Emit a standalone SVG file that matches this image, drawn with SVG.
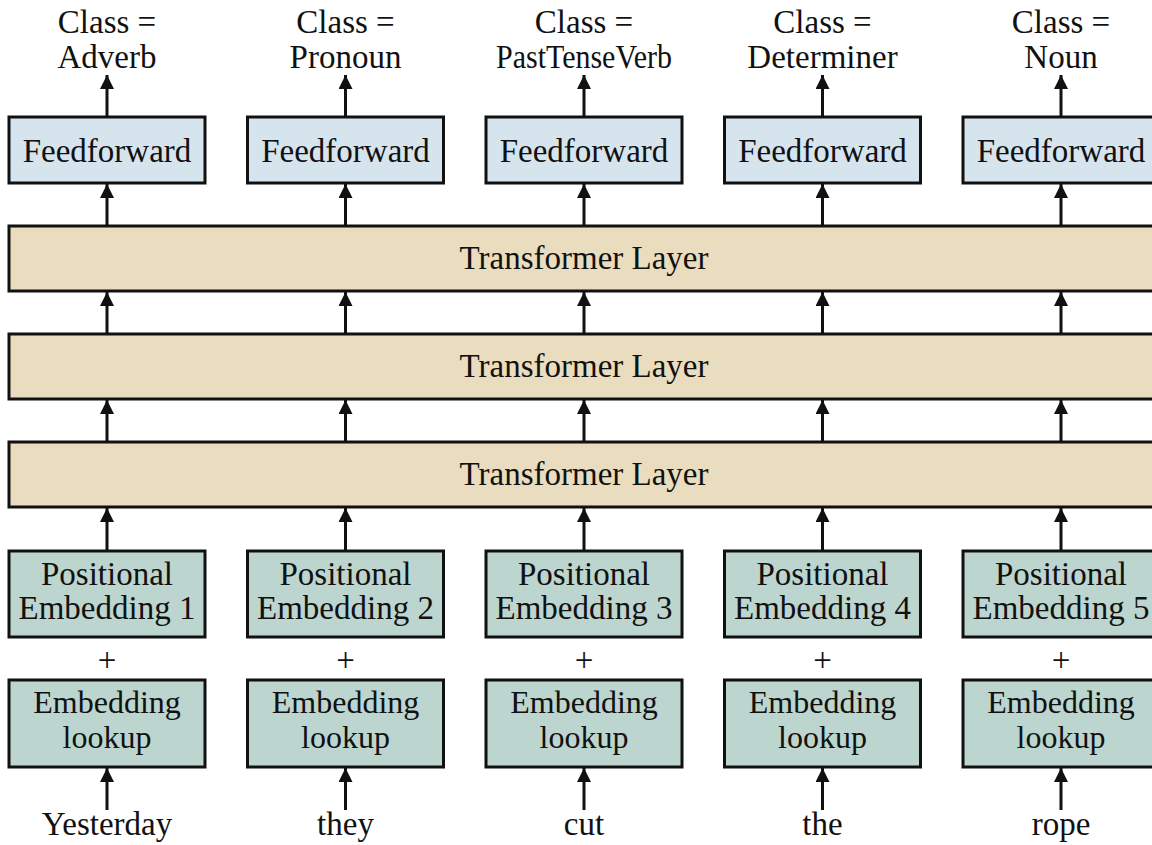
<svg xmlns="http://www.w3.org/2000/svg" width="1152" height="845" viewBox="0 0 1152 845">
<style>
text{font-family:"Liberation Serif","Times New Roman",serif;font-size:33px;fill:#111;text-anchor:middle}
.sm{font-size:32px}
.ff{fill:#d6e4ee;stroke:#111;stroke-width:3}
.tl{fill:#eadcbf;stroke:#111;stroke-width:3}
.em{fill:#bdd5cf;stroke:#111;stroke-width:3}
.ar{stroke:#111;stroke-width:3;fill:none;marker-end:url(#ah)}
</style>
<defs>
<marker id="ah" markerUnits="userSpaceOnUse" markerWidth="14" markerHeight="18" refX="14" refY="7" orient="auto">
<path d="M0,0 L14,7 L0,14 Z" fill="#111"/>
</marker>
</defs>
<rect width="1152" height="845" fill="#fff"/>
<g id="connectors">
<line class="ar" x1="107" y1="117" x2="107" y2="75"/>
<line class="ar" x1="345.5" y1="117" x2="345.5" y2="75"/>
<line class="ar" x1="584" y1="117" x2="584" y2="75"/>
<line class="ar" x1="822.5" y1="117" x2="822.5" y2="75"/>
<line class="ar" x1="1061" y1="117" x2="1061" y2="75"/>
<line class="ar" x1="107" y1="226" x2="107" y2="184"/>
<line class="ar" x1="345.5" y1="226" x2="345.5" y2="184"/>
<line class="ar" x1="584" y1="226" x2="584" y2="184"/>
<line class="ar" x1="822.5" y1="226" x2="822.5" y2="184"/>
<line class="ar" x1="1061" y1="226" x2="1061" y2="184"/>
<line class="ar" x1="107" y1="334" x2="107" y2="292"/>
<line class="ar" x1="345.5" y1="334" x2="345.5" y2="292"/>
<line class="ar" x1="584" y1="334" x2="584" y2="292"/>
<line class="ar" x1="822.5" y1="334" x2="822.5" y2="292"/>
<line class="ar" x1="1061" y1="334" x2="1061" y2="292"/>
<line class="ar" x1="107" y1="442" x2="107" y2="400"/>
<line class="ar" x1="345.5" y1="442" x2="345.5" y2="400"/>
<line class="ar" x1="584" y1="442" x2="584" y2="400"/>
<line class="ar" x1="822.5" y1="442" x2="822.5" y2="400"/>
<line class="ar" x1="1061" y1="442" x2="1061" y2="400"/>
<line class="ar" x1="107" y1="551" x2="107" y2="508"/>
<line class="ar" x1="345.5" y1="551" x2="345.5" y2="508"/>
<line class="ar" x1="584" y1="551" x2="584" y2="508"/>
<line class="ar" x1="822.5" y1="551" x2="822.5" y2="508"/>
<line class="ar" x1="1061" y1="551" x2="1061" y2="508"/>
<line class="ar" x1="107" y1="810" x2="107" y2="768"/>
<line class="ar" x1="345.5" y1="810" x2="345.5" y2="768"/>
<line class="ar" x1="584" y1="810" x2="584" y2="768"/>
<line class="ar" x1="822.5" y1="810" x2="822.5" y2="768"/>
<line class="ar" x1="1061" y1="810" x2="1061" y2="768"/>
</g>
<g id="labels-top">
<text x="107" y="33">Class =</text><text x="107" y="68">Adverb</text>
<text x="345.5" y="33">Class =</text><text x="345.5" y="68">Pronoun</text>
<text x="584" y="33">Class =</text><text x="584" y="68" textLength="176" lengthAdjust="spacingAndGlyphs">PastTenseVerb</text>
<text x="822.5" y="33">Class =</text><text x="822.5" y="68">Determiner</text>
<text x="1061" y="33">Class =</text><text x="1061" y="68">Noun</text>
</g>
<g id="ff1"><rect class="ff" x="9" y="117" width="196" height="66"/><text x="107" y="162">Feedforward</text></g>
<g id="ff2"><rect class="ff" x="247.5" y="117" width="196" height="66"/><text x="345.5" y="162">Feedforward</text></g>
<g id="ff3"><rect class="ff" x="486" y="117" width="196" height="66"/><text x="584" y="162">Feedforward</text></g>
<g id="ff4"><rect class="ff" x="724.5" y="117" width="196" height="66"/><text x="822.5" y="162">Feedforward</text></g>
<g id="ff5"><rect class="ff" x="963" y="117" width="196" height="66"/><text x="1061" y="162">Feedforward</text></g>
<g id="tl1"><rect class="tl" x="9" y="226" width="1152" height="65"/><text x="584" y="269">Transformer Layer</text></g>
<g id="tl2"><rect class="tl" x="9" y="334" width="1152" height="65"/><text x="584" y="377">Transformer Layer</text></g>
<g id="tl3"><rect class="tl" x="9" y="442" width="1152" height="65"/><text x="584" y="485">Transformer Layer</text></g>
<g id="pe1"><rect class="em" x="9" y="551" width="196" height="86"/><text x="107" y="585">Positional</text><text x="107" y="619">Embedding 1</text></g>
<g id="pe2"><rect class="em" x="247.5" y="551" width="196" height="86"/><text x="345.5" y="585">Positional</text><text x="345.5" y="619">Embedding 2</text></g>
<g id="pe3"><rect class="em" x="486" y="551" width="196" height="86"/><text x="584" y="585">Positional</text><text x="584" y="619">Embedding 3</text></g>
<g id="pe4"><rect class="em" x="724.5" y="551" width="196" height="86"/><text x="822.5" y="585">Positional</text><text x="822.5" y="619">Embedding 4</text></g>
<g id="pe5"><rect class="em" x="963" y="551" width="196" height="86"/><text x="1061" y="585">Positional</text><text x="1061" y="619">Embedding 5</text></g>
<g id="plus">
<text x="107" y="671">+</text><text x="345.5" y="671">+</text><text x="584" y="671">+</text><text x="822.5" y="671">+</text><text x="1061" y="671">+</text>
</g>
<g id="el1"><rect class="em" x="9" y="680" width="196" height="87"/><text class="sm" x="107" y="713">Embedding</text><text class="sm" x="107" y="748">lookup</text></g>
<g id="el2"><rect class="em" x="247.5" y="680" width="196" height="87"/><text class="sm" x="345.5" y="713">Embedding</text><text class="sm" x="345.5" y="748">lookup</text></g>
<g id="el3"><rect class="em" x="486" y="680" width="196" height="87"/><text class="sm" x="584" y="713">Embedding</text><text class="sm" x="584" y="748">lookup</text></g>
<g id="el4"><rect class="em" x="724.5" y="680" width="196" height="87"/><text class="sm" x="822.5" y="713">Embedding</text><text class="sm" x="822.5" y="748">lookup</text></g>
<g id="el5"><rect class="em" x="963" y="680" width="196" height="87"/><text class="sm" x="1061" y="713">Embedding</text><text class="sm" x="1061" y="748">lookup</text></g>
<g id="words">
<text x="107" y="835">Yesterday</text>
<text x="345.5" y="835">they</text>
<text x="584" y="835">cut</text>
<text x="822.5" y="835">the</text>
<text x="1061" y="835">rope</text>
</g>
</svg>
